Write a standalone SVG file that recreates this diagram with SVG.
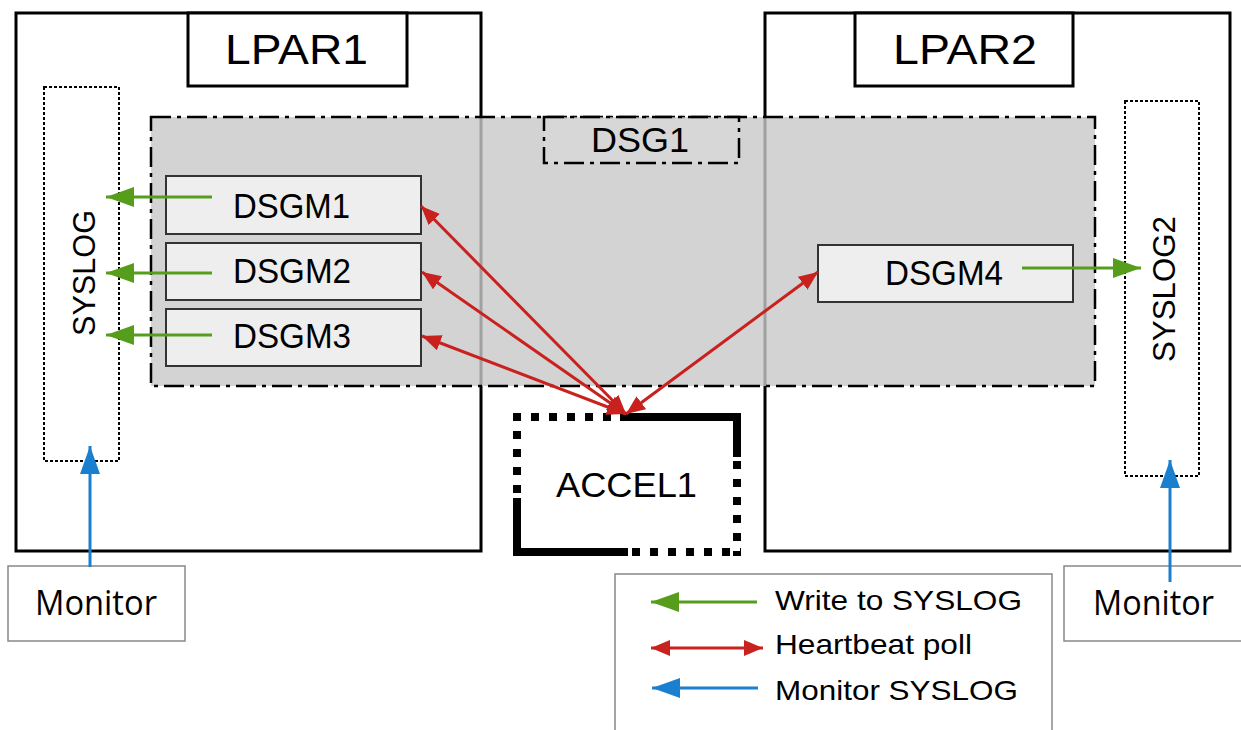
<svg xmlns="http://www.w3.org/2000/svg" width="1241" height="730" viewBox="0 0 1241 730">
<style>
.lpar{fill:#fff;stroke:#000;stroke-width:3}
.lbl{fill:#fff;stroke:#000;stroke-width:3}
.t{font-family:"Liberation Sans",Arial,sans-serif;fill:#000}
.m{font-family:"Open Sans","Noto Sans",sans-serif;fill:#000}
.dsgm{fill:#eeeeee;stroke:#333;stroke-width:2}
.sys{fill:#fff;stroke:#000;stroke-width:2;stroke-dasharray:3 2}
.dd{stroke:#000;stroke-width:2.5;stroke-dasharray:20 6 4 6}
.acc{fill:none;stroke:#000;stroke-width:8}
.accd{fill:none;stroke:#000;stroke-width:8;stroke-dasharray:8 10}
.g{stroke:#579d1c;stroke-width:3;fill:none;marker-end:url(#ag)}
.r{stroke:#c9211e;stroke-width:3;fill:none;marker-start:url(#ars);marker-end:url(#ar)}
.b{stroke:#1b7fcf;stroke-width:3;fill:none;marker-end:url(#ab)}
.mon{fill:#fff;stroke:#888;stroke-width:1.5}
</style>
<defs>
<marker id="ag" markerUnits="userSpaceOnUse" markerWidth="30" markerHeight="20" refX="28" refY="10" orient="auto"><path d="M0,0 L28,10 L0,20 Z" fill="#579d1c"/></marker>
<marker id="ab" markerUnits="userSpaceOnUse" markerWidth="30" markerHeight="20" refX="28" refY="10" orient="auto"><path d="M0,0 L28,10 L0,20 Z" fill="#1b7fcf"/></marker>
<marker id="ar" markerUnits="userSpaceOnUse" markerWidth="20" markerHeight="16" refX="19" refY="8" orient="auto"><path d="M0,0 L19,8 L0,16 Z" fill="#c9211e"/></marker>
<marker id="ars" markerUnits="userSpaceOnUse" markerWidth="20" markerHeight="16" refX="1" refY="8" orient="auto"><path d="M20,0 L1,8 L20,16 Z" fill="#c9211e"/></marker>
</defs>
<rect width="1241" height="730" fill="#fff"/>
<g id="lpar1">
<rect class="lpar" x="16" y="13" width="465" height="538"/>
<rect class="lbl" x="188" y="13" width="219" height="73"/>
<text class="t" x="225" y="64" font-size="43" textLength="143" lengthAdjust="spacingAndGlyphs">LPAR1</text>
</g>
<g id="lpar2">
<rect class="lpar" x="765" y="13" width="465" height="538"/>
<rect class="lbl" x="855" y="13" width="218" height="73"/>
<text class="t" x="893" y="64" font-size="43" textLength="144" lengthAdjust="spacingAndGlyphs">LPAR2</text>
</g>
<g id="syslog">
<rect class="sys" x="44" y="87" width="75" height="374"/>
<text class="t" font-size="31" transform="translate(95,336) rotate(-90)" textLength="126" lengthAdjust="spacingAndGlyphs">SYSLOG</text>
</g>
<g id="syslog2">
<rect class="sys" x="1125" y="101" width="74" height="375"/>
<text class="t" font-size="31" transform="translate(1175,362) rotate(-90)" textLength="146" lengthAdjust="spacingAndGlyphs">SYSLOG2</text>
</g>
<g id="dsg1">
<rect x="151" y="117" width="944" height="269" fill="#c8c8c8" fill-opacity="0.8"/>
<rect class="dd" x="151" y="117" width="944" height="269" fill="none"/>
<rect class="dd" x="544" y="117" width="195" height="46" fill="#dadada" fill-opacity="0.6"/>
<text class="t" x="591" y="152" font-size="35" textLength="98" lengthAdjust="spacingAndGlyphs">DSG1</text>
</g>
<g id="dsgm1">
<rect class="dsgm" x="166" y="176" width="255" height="58"/>
<text class="t" x="233" y="218" font-size="35" textLength="117" lengthAdjust="spacingAndGlyphs">DSGM1</text>
</g>
<g id="dsgm2">
<rect class="dsgm" x="166" y="243" width="255" height="57"/>
<text class="t" x="233" y="283" font-size="35" textLength="118" lengthAdjust="spacingAndGlyphs">DSGM2</text>
</g>
<g id="dsgm3">
<rect class="dsgm" x="166" y="309" width="255" height="57"/>
<text class="t" x="233" y="348" font-size="35" textLength="118" lengthAdjust="spacingAndGlyphs">DSGM3</text>
</g>
<g id="dsgm4">
<rect class="dsgm" x="818" y="245" width="255" height="57"/>
<text class="t" x="885" y="285" font-size="35" textLength="118" lengthAdjust="spacingAndGlyphs">DSGM4</text>
</g>
<g id="accel1">
<rect x="517" y="417" width="220" height="135" fill="#fff"/>
<path class="acc" d="M620,417 H737 V457"/>
<path class="acc" d="M517,498 V552 H628"/>
<path class="accd" d="M513,417 H620"/>
<path class="accd" d="M737,461 V556"/>
<path class="accd" d="M632,552 H741"/>
<path class="accd" d="M517,413 V498"/>
<text class="t" x="556" y="497" font-size="35" textLength="141" lengthAdjust="spacingAndGlyphs">ACCEL1</text>
</g>
<g id="monitor1">
<rect class="mon" x="8" y="566" width="177" height="75"/>
<text class="m" x="35" y="615" font-size="34" textLength="122" lengthAdjust="spacingAndGlyphs">Monitor</text>
</g>
<g id="monitor2">
<rect class="mon" x="1064" y="566" width="180" height="75"/>
<text class="m" x="1093" y="615" font-size="34" textLength="121" lengthAdjust="spacingAndGlyphs">Monitor</text>
</g>
<g id="connectors">
<line class="g" x1="212" y1="197" x2="106" y2="197"/>
<line class="g" x1="212" y1="273" x2="106" y2="273"/>
<line class="g" x1="212" y1="335" x2="106" y2="335"/>
<line class="g" x1="1022" y1="268" x2="1141" y2="268"/>
<line class="r" x1="626" y1="414" x2="421" y2="206"/>
<line class="r" x1="626" y1="414" x2="422" y2="272"/>
<line class="r" x1="626" y1="414" x2="422" y2="336"/>
<line class="r" x1="626" y1="414" x2="818" y2="272"/>
<line class="b" x1="90" y1="567" x2="90" y2="446"/>
<line class="b" x1="1170" y1="582" x2="1170" y2="460"/>
</g>
<g id="legend">
<rect x="615" y="574" width="437" height="170" fill="#fff" stroke="#888" stroke-width="1.5"/>
<line class="g" x1="757" y1="602" x2="651" y2="602"/>
<line class="r" x1="651" y1="648" x2="763" y2="648"/>
<line class="b" x1="758" y1="688" x2="652" y2="688"/>
<text class="t" x="775" y="610" font-size="28" textLength="247" lengthAdjust="spacingAndGlyphs">Write to SYSLOG</text>
<text class="t" x="775" y="654" font-size="28" textLength="197" lengthAdjust="spacingAndGlyphs">Heartbeat poll</text>
<text class="t" x="775" y="700" font-size="28" textLength="243" lengthAdjust="spacingAndGlyphs">Monitor SYSLOG</text>
</g>
</svg>
